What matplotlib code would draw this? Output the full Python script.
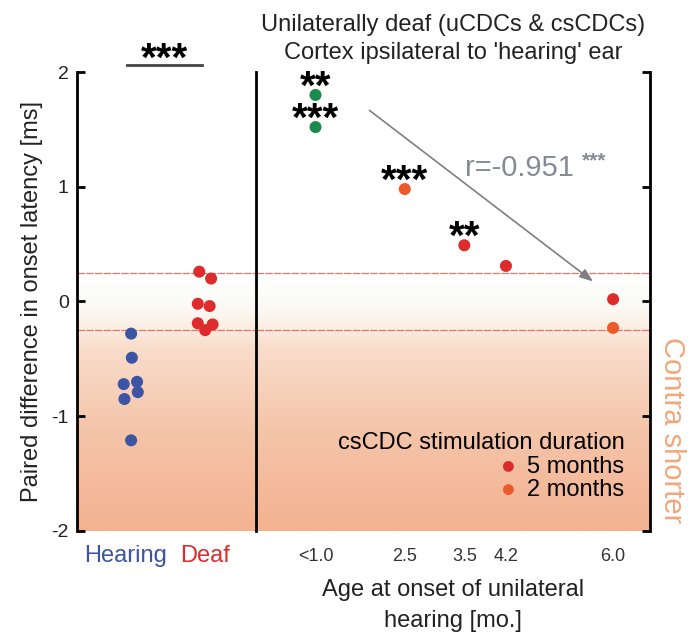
import numpy as np
import matplotlib
matplotlib.use("Agg")
import matplotlib.pyplot as plt
from matplotlib.colors import LinearSegmentedColormap
from matplotlib.textpath import TextPath
from matplotlib.font_manager import FontProperties

plt.rcParams['font.family'] = ['Liberation Sans', 'DejaVu Sans']
plt.rcParams['axes.unicode_minus'] = False

# ---- data ----
groups = ["Hearing", "Deaf"]
hearing_vals = [-0.28, -0.49, -0.72, -0.70, -0.79, -0.85, -1.21]
hearing_jitter = [0.0, 0.01, -0.10, 0.08, 0.09, -0.09, 0.0]
deaf_vals = [0.26, 0.20, -0.02, -0.04, -0.19, -0.20, -0.25]
deaf_jitter = [-0.08, 0.08, -0.10, 0.06, -0.10, 0.10, 0.0]

# unilateral hearing onset (months) and latency differences
ucdc_age = [1.0, 1.0]
ucdc_vals = [1.80, 1.52]
ucdc_stars = ["**", "***"]
cs5_age = [3.5, 4.2, 6.0]
cs5_vals = [0.49, 0.31, 0.02]
cs5_stars = ["**", "", ""]
cs2_age = [2.5, 6.0]
cs2_vals = [0.98, -0.23]
cs2_stars = ["***", ""]
age_ticks = [1.0, 2.5, 3.5, 4.2, 6.0]
age_labels = ["<1.0", "2.5", "3.5", "4.2", "6.0"]
r_value = -0.951
trend_start = (1.87, 1.68)
trend_end = (5.70, 0.16)
band = 0.25

c_blue = "#3b54a3"
c_red = "#de2b2b"
c_orange = "#ec5a2a"
c_green = "#1b8a4c"
c_grey = "#868a94"

STAR_SIZE = 29
star_prop = FontProperties(family="Liberation Sans", weight="bold")
_ext = TextPath((0, 0), "*", size=STAR_SIZE, prop=star_prop).get_extents()
star_mid = (_ext.y0 + _ext.y1) / 2.0     # glyph centre above baseline, points

fig = plt.figure(figsize=(6.94, 6.35), dpi=100)
axL = fig.add_axes([0.111, 0.1638, 0.2594, 0.7228])
axR = fig.add_axes([0.3689, 0.1638, 0.5677, 0.7228])

cmap = LinearSegmentedColormap.from_list("shade", [
    (0.0, "#f3b290"),
    (0.22, "#f5c5aa"),
    (0.40, "#f9ddcb"),
    (0.435, "#fbeadf"),
    (0.47, "#fbf6ee"),
    (0.50, "#fbfbf7"),
    (0.56, "#ffffff"),
    (1.0, "#ffffff"),
])
grad = np.linspace(1, 0, 400).reshape(-1, 1)

for ax, xl in ((axL, (-0.73, 1.70)), (axR, (0.0, 6.62))):
    ax.set_xlim(*xl)
    ax.set_ylim(-2, 2)
    ax.imshow(grad, cmap=cmap, vmin=0, vmax=1, aspect="auto",
              extent=[xl[0], xl[1], -2, 2], zorder=0)
    for yb in (band, -band):
        ax.axhline(yb, color="#e0776e", lw=0.9, ls=(0, (6, 1)), zorder=1)
    for s in ("top", "bottom"):
        ax.spines[s].set_visible(False)

# ---- left panel ----
axL.spines["right"].set_visible(False)
axL.spines["left"].set_linewidth(2)
axL.set_yticks([-2, -1, 0, 1, 2])
axL.tick_params(axis="y", direction="in", length=6, width=2, labelsize=14,
                labelcolor="#222222", pad=6)
axL.set_xticks([-0.08, 1.0])
axL.set_xticklabels(groups, fontsize=17)
axL.tick_params(axis="x", length=0, pad=10)
for lab, col in zip(axL.get_xticklabels(), (c_blue, c_red)):
    lab.set_color(col)
axL.set_ylabel("Paired difference in onset latency [ms]", fontsize=17,
               color="#222222", labelpad=6)

axL.scatter(np.array(hearing_jitter) + 0, hearing_vals, s=75, color=c_blue,
            zorder=3, edgecolor="none")
axL.scatter(np.array(deaf_jitter) + 1, deaf_vals, s=75, color=c_red,
            zorder=3, edgecolor="none")
axL.plot([-0.05, 0.96], [2.06, 2.06], color="#444444", lw=2, clip_on=False)
# significance bar: stars centred a little above the bar
axL.annotate("***", (0.455, 2.06), xytext=(0, 10.5 - star_mid),
             textcoords="offset points", ha="center", va="baseline",
             fontsize=STAR_SIZE, fontweight="bold", annotation_clip=False)

# ---- right panel ----
axR.spines["left"].set_linewidth(2)
axR.spines["right"].set_linewidth(2)
axR.set_yticks([-2, -1, 0, 1, 2])
axR.tick_params(axis="y", which="major", left=False, right=True,
                labelleft=False, direction="in", length=6, width=2)
axR.set_yticks([-2, 2], minor=True)
axR.tick_params(axis="y", which="minor", left=True, right=False,
                direction="inout", length=14, width=2)
axR.set_xticks(age_ticks)
axR.set_xticklabels(age_labels, fontsize=13, color="#333333")
axR.tick_params(axis="x", length=0, pad=12)
axR.set_xlabel("Age at onset of unilateral\nhearing [mo.]", fontsize=17,
               color="#222222", labelpad=10, linespacing=1.55)

axR.scatter(ucdc_age, ucdc_vals, s=75, color=c_green, zorder=3, edgecolor="none")
axR.scatter(cs5_age, cs5_vals, s=75, color=c_red, zorder=3, edgecolor="none",
            label="5 months")
axR.scatter(cs2_age, cs2_vals, s=75, color=c_orange, zorder=3, edgecolor="none",
            label="2 months")

# per-point significance stars, glyph centre ~12 pt above each dot
for xs, ys, st in ((ucdc_age, ucdc_vals, ucdc_stars),
                   (cs5_age, cs5_vals, cs5_stars),
                   (cs2_age, cs2_vals, cs2_stars)):
    for x, y, s in zip(xs, ys, st):
        if s:
            axR.annotate(s, (x, y), xytext=(0, 12 - star_mid),
                         textcoords="offset points", ha="center",
                         va="baseline", fontsize=STAR_SIZE,
                         fontweight="bold", zorder=4)

axR.annotate("", xy=trend_end, xytext=trend_start,
             arrowprops=dict(arrowstyle="-|>,head_length=0.8,head_width=0.3",
                             color="#7d7f85", lw=1.2), zorder=2)
axR.text(3.51, 1.09, f"r={r_value:.3f}", fontsize=21, color=c_grey,
         ha="left", va="baseline")
axR.text(5.47, 1.18, "***", fontsize=15, color=c_grey, ha="left",
         va="baseline", fontweight="bold")

leg = axR.legend(loc="lower right", bbox_to_anchor=(0.965, 0.04),
                 frameon=False, fontsize=17,
                 title="csCDC stimulation duration", title_fontsize=17,
                 alignment="right", handletextpad=0.3, labelspacing=0.05,
                 borderpad=0, handlelength=1.0, markerscale=0.9)

axR.text(1.056, 0.22, "Contra shorter", transform=axR.transAxes, rotation=-90,
         fontsize=21, color="#f2a67a", ha="center", va="center")

fig.text(0.653, 0.978, "Unilaterally deaf (uCDCs & csCDCs)\n"
         "Cortex ipsilateral to 'hearing' ear", ha="center", va="top",
         fontsize=17, color="#222222", linespacing=1.38)

fig.savefig("out.png", dpi=100)
